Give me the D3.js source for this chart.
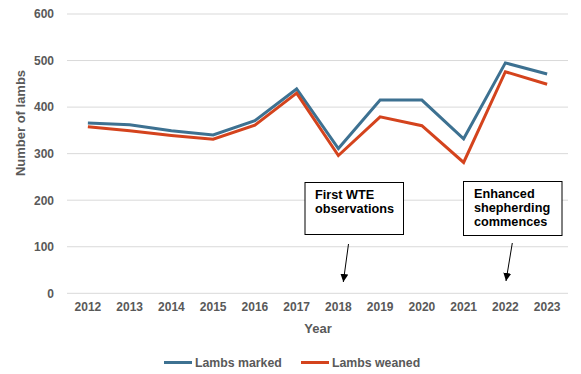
<!DOCTYPE html>
<html><head><meta charset="utf-8">
<script src="https://cdn.jsdelivr.net/npm/d3@7"></script>
<style>body{margin:0;background:#fff;}svg{display:block;font-family:"Liberation Sans",Arial,sans-serif;}</style>
</head><body><svg id="c" width="581" height="374"></svg>
<script>
const years = ["2012","2013","2014","2015","2016","2017","2018","2019","2020","2021","2022","2023"];
const lambsMarked = [366, 362, 349, 340, 371, 439, 311, 415, 415, 332, 495, 471];
const lambsWeaned = [358, 349, 339, 331, 361, 430, 296, 379, 360, 281, 476, 449];
const yTicks = [0, 100, 200, 300, 400, 500, 600];
const seriesNames = ["Lambs marked", "Lambs weaned"];
const annotations = [
  {year: "2018", lines: ["First WTE", "observations"]},
  {year: "2022", lines: ["Enhanced", "shepherding", "commences"]}
];

(function () {
const svg = d3.select("#c");
const pLeft = 67, pRight = 568, pTop = 14, pBottom = 293.3;
const x = d3.scaleBand().domain(years).range([pLeft, pRight]);
const y = d3.scaleLinear().domain([0, 600]).range([pBottom, pTop]);
const grey = "#595959";
const colors = ["#3D7191", "#D4431D"];

// gridlines
svg.append("g").selectAll("line").data(yTicks).join("line")
  .attr("x1", pLeft).attr("x2", pRight)
  .attr("y1", d => y(d)).attr("y2", d => y(d))
  .attr("stroke", "#d9d9d9").attr("stroke-width", 1);

// y axis labels
const yAxis = d3.axisLeft(y).tickValues(yTicks).tickSize(0).tickPadding(0);
const gy = svg.append("g").attr("transform", `translate(${pLeft - 13},0)`).call(yAxis);
gy.select(".domain").remove();
gy.selectAll("text").attr("fill", grey).style("font-size", "12px").style("font-weight", "bold")
  .style("font-family", "Liberation Sans, Arial, sans-serif");

// x axis labels
const xAxis = d3.axisBottom(x).tickSize(0).tickPadding(0);
const gx = svg.append("g").attr("transform", `translate(0,${pBottom + 9})`).call(xAxis);
gx.select(".domain").remove();
gx.selectAll("text").attr("fill", grey).style("font-size", "12px").style("font-weight", "bold")
  .style("font-family", "Liberation Sans, Arial, sans-serif");

// axis titles
svg.append("text").attr("x", (pLeft + pRight) / 2 + 0.5).attr("y", 332.5).attr("text-anchor", "middle")
  .attr("fill", grey).style("font-size", "13px").style("font-weight", "bold").text("Year");
svg.append("text").attr("transform", "translate(24.5,123) rotate(-90)").attr("text-anchor", "middle")
  .attr("fill", grey).style("font-size", "13px").style("font-weight", "bold").text("Number of lambs");

// lines
const line = d3.line().x((d, i) => x(years[i]) + x.bandwidth() / 2).y(d => y(d));
[lambsMarked, lambsWeaned].forEach((s, k) => {
  svg.append("path").datum(s).attr("d", line).attr("fill", "none")
    .attr("stroke", colors[k]).attr("stroke-width", 3).attr("stroke-linejoin", "miter");
});

// arrow marker
svg.append("defs").append("marker").attr("id", "ah").attr("viewBox", "0 0 10 10")
  .attr("refX", 10).attr("refY", 5).attr("markerWidth", 8).attr("markerHeight", 8)
  .attr("markerUnits", "userSpaceOnUse").attr("orient", "auto")
  .append("path").attr("d", "M0,0 L10,5 L0,10 Z").attr("fill", "#000");

// annotations
const boxes = [
  {x0: 305, y0: 182.5, w: 98.5, h: 52, tx: 315, ty: 198.5, arrow: [348.5, 244, 343.3, 282]},
  {x0: 463.5, y0: 181.5, w: 98.5, h: 54, tx: 474, ty: 197.7, arrow: [512.3, 243, 506, 281]}
];
annotations.forEach((a, i) => {
  const b = boxes[i];
  svg.append("rect").attr("x", b.x0).attr("y", b.y0).attr("width", b.w).attr("height", b.h)
    .attr("fill", "#fff").attr("stroke", "#000").attr("stroke-width", 1);
  const t = svg.append("text").attr("x", b.tx).attr("y", b.ty).attr("fill", "#000")
    .style("font-size", "12.7px").style("font-weight", "bold");
  a.lines.forEach((l, j) => t.append("tspan").attr("x", b.tx).attr("dy", j === 0 ? 0 : 14.2).text(l));
  svg.append("line").attr("x1", b.arrow[0]).attr("y1", b.arrow[1]).attr("x2", b.arrow[2]).attr("y2", b.arrow[3])
    .attr("stroke", "#000").attr("stroke-width", 1).attr("marker-end", "url(#ah)");
});

// legend
const legendItems = [{x: 164, tx: 195}, {x: 301, tx: 332}];
seriesNames.forEach((n, k) => {
  const L = legendItems[k];
  svg.append("line").attr("x1", L.x).attr("x2", L.x + 28).attr("y1", 362.5).attr("y2", 362.5)
    .attr("stroke", colors[k]).attr("stroke-width", 3);
  svg.append("text").attr("x", L.tx).attr("y", 367).attr("fill", grey)
    .style("font-size", "12.3px").style("font-weight", "bold").text(n);
});
})();
</script></body></html>
